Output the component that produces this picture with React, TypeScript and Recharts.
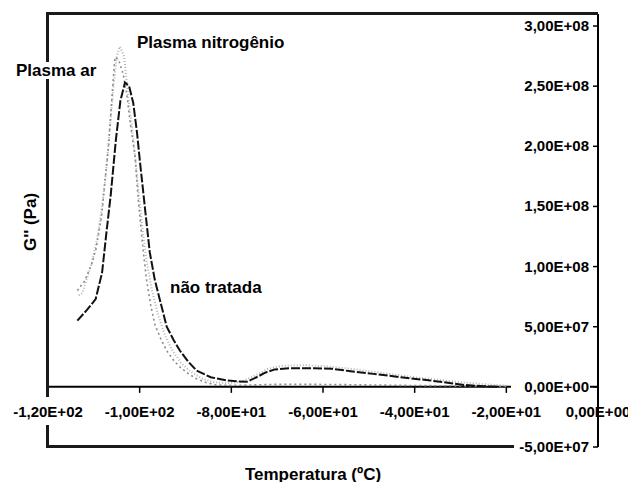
import { LineChart, Line, XAxis, YAxis, ReferenceLine } from 'recharts';

// temperature (ºC) and G'' (Pa) for each sample
const naoTratadaT = [-113.6, -111.5, -109.6, -108.2, -107.2, -106.3, -105.2, -104.2, -103.2, -102.3, -101.4, -100.6, -99.9, -98.8, -97.8, -96.7, -95.3, -94.1, -92.6, -91.2, -89.4, -87.6, -84.5, -81, -78.5, -76.6, -74.5, -72.5, -70.5, -67, -62, -58, -54, -49, -43, -36.6, -32, -29, -25, -22];
const naoTratadaG = [5.5e7, 6.4e7, 7.3e7, 9.5e7, 1.3e8, 1.6e8, 2.05e8, 2.38e8, 2.53e8, 2.5e8, 2.36e8, 2.12e8, 1.86e8, 1.47e8, 1.12e8, 8.9e7, 6.8e7, 5.0e7, 3.9e7, 3.0e7, 2.1e7, 1.36e7, 8e6, 5.3e6, 4.5e6, 4.2e6, 8e6, 1.2e7, 1.45e7, 1.55e7, 1.55e7, 1.5e7, 1.3e7, 1.08e7, 8e6, 5.3e6, 3e6, 1.5e6, 5e5, 0];

const plasmaArT = [-113.6, -112, -110.5, -109.5, -108.3, -107.6, -106.8, -106.1, -105.4, -104.6, -103.6, -102.7, -102.1, -101, -100.4, -99.9, -99.2, -98.5, -97.6, -96.7, -95.4, -94.1, -92.6, -91.2, -89.4, -87.6, -85.4, -83.2, -80, -76, -72, -66, -60, -54, -48, -42, -36, -30, -24, -20];
const plasmaArG = [8.0e7, 8.8e7, 1.02e8, 1.15e8, 1.42e8, 1.7e8, 2.0e8, 2.38e8, 2.74e8, 2.72e8, 2.6e8, 2.4e8, 2.2e8, 1.92e8, 1.6e8, 1.39e8, 1.12e8, 8.9e7, 6.8e7, 5.2e7, 4.0e7, 3.0e7, 2.2e7, 1.64e7, 1.1e7, 6.7e6, 3.5e6, 1.5e6, 1.2e6, 1.5e6, 2e6, 2.2e6, 2e6, 1.8e6, 1.5e6, 1.2e6, 1e6, 8e5, 5e5, 3e5];

const plasmaN2T = [-113.3, -112.5, -111.5, -110.3, -109.2, -108.2, -107.3, -106.5, -105.7, -105, -104.3, -103.4, -102.5, -101.5, -100.5, -99.5, -98.5, -97.3, -96, -94.5, -93, -91, -89, -86.5, -84, -81, -78, -75, -72, -69, -64, -59, -54, -49, -44, -39, -34, -29, -24, -20];
const plasmaN2G = [7.6e7, 7.8e7, 9.0e7, 1.05e8, 1.25e8, 1.5e8, 1.8e8, 2.15e8, 2.5e8, 2.75e8, 2.83e8, 2.75e8, 2.42e8, 2.1e8, 1.72e8, 1.35e8, 1.05e8, 8.0e7, 6.0e7, 4.3e7, 3.1e7, 2.0e7, 1.3e7, 7e6, 4e6, 3e6, 4e6, 9e6, 1.5e7, 1.75e7, 1.8e7, 1.7e7, 1.5e7, 1.25e7, 1e7, 7.5e6, 5.5e6, 3.5e6, 2e6, 1e6];

const xTicks = [-120, -100, -80, -60, -40, -20, 0];
const yTicks = [-5e7, 0, 5e7, 1e8, 1.5e8, 2e8, 2.5e8, 3e8];

const W = 628;
const H = 474;
const AXIS_H = 2;
const M = { top: 6, right: 38, bottom: 33, left: 40 };
const X_MIN = -120;
const X_MAX = 0;
const Y_MIN = -5e7;
const Y_MAX = 3.1e8;
const PLOT_W = W - M.left - M.right;
const PLOT_H = H - M.top - M.bottom - AXIS_H;
// distance from the bottom frame up to the G'' = 0 line
const ZERO_DROP = (PLOT_H * (0 - Y_MIN)) / (Y_MAX - Y_MIN);

const FONT = '"Liberation Sans", Arial, sans-serif';

const pts = (t: number[], g: number[]) => t.map((x, i) => ({ t: x, g: g[i] }));

// 3,00E+08 style
function sci(v: number) {
  const [m, e] = v.toExponential(2).split('e');
  const n = Number(e);
  return `${m.replace('.', ',')}E${n < 0 ? '-' : '+'}${String(Math.abs(n)).padStart(2, '0')}`;
}

function TempTick({ x, y, payload }: any) {
  const y0 = y - ZERO_DROP;
  return (
    <g>
      <line x1={x} x2={x} y1={y0} y2={y0 + 6} stroke="#000" strokeWidth={1.5} />
      <text x={x} y={y0 + 30} textAnchor="middle" fontFamily={FONT} fontSize={15} fontWeight={700} fill="#000">
        {sci(payload.value)}
      </text>
    </g>
  );
}

function GTick({ x, y, payload }: any) {
  return (
    <g>
      <rect x={x - 78} y={y - 9} width={79} height={18} fill="#fff" />
      <text x={x} y={y + 5} textAnchor="end" fontFamily={FONT} fontSize={15} fontWeight={700} fill="#000">
        {sci(payload.value)}
      </text>
    </g>
  );
}

const note: React.CSSProperties = {
  position: 'absolute',
  fontFamily: FONT,
  fontSize: 17,
  fontWeight: 700,
  lineHeight: 1,
  whiteSpace: 'nowrap',
  color: '#000',
  zIndex: 6,
};

const edge: React.CSSProperties = { position: 'absolute', background: '#1a1a1a', zIndex: 5 };

export default function App() {
  return (
    <div style={{ position: 'relative', width: W, height: H, background: '#fff' }}>
      <LineChart width={W} height={H} margin={M}>
        <ReferenceLine y={0} stroke="#000" strokeWidth={2} />
        <Line data={pts(plasmaN2T, plasmaN2G)} dataKey="g" type="linear" stroke="#b4b4b4" strokeWidth={2} strokeDasharray="1 2" dot={false} isAnimationActive={false} />
        <Line data={pts(plasmaArT, plasmaArG)} dataKey="g" type="linear" stroke="#8c8c8c" strokeWidth={1.6} strokeDasharray="2 3" dot={false} isAnimationActive={false} />
        <Line data={pts(naoTratadaT, naoTratadaG)} dataKey="g" type="linear" stroke="#111" strokeWidth={2} strokeDasharray="9 2" dot={false} isAnimationActive={false} />
        <XAxis
          type="number"
          dataKey="t"
          domain={[X_MIN, X_MAX]}
          ticks={xTicks}
          height={AXIS_H}
          tickSize={0}
          tickMargin={0}
          tickLine={false}
          axisLine={false}
          tick={<TempTick />}
          interval={0}
        />
        <YAxis
          orientation="right"
          mirror
          type="number"
          domain={[Y_MIN, Y_MAX]}
          ticks={yTicks}
          interval={0}
          tickSize={5}
          tickMargin={4}
          axisLine={{ stroke: '#000', strokeWidth: 2 }}
          tickLine={{ stroke: '#000', strokeWidth: 1.5 }}
          tick={<GTick />}
        />
      </LineChart>
      {/* plot frame: top edge, left edge (broken by the first x label), bottom edge up to the last y label */}
      <div style={{ ...edge, left: M.left - 2, top: M.top - 2, width: PLOT_W + 2, height: 3 }} />
      <div style={{ ...edge, left: M.left - 2, top: M.top - 2, width: 3, height: PLOT_H - ZERO_DROP + 12 }} />
      <div style={{ ...edge, left: M.left - 2, top: M.top + PLOT_H - 22, width: 3, height: 23 }} />
      <div style={{ ...edge, left: M.left - 2, top: M.top + PLOT_H - 2, width: PLOT_W - 82, height: 3 }} />
      <div style={{ ...note, left: 8, top: 54, background: '#fff' }}>Plasma ar</div>
      <div style={{ ...note, left: 129, top: 26 }}>Plasma nitrogênio</div>
      <div style={{ ...note, left: 162, top: 271 }}>não tratada</div>
      <div style={{ ...note, left: 22, top: 214, transform: 'translate(-50%, -50%) rotate(-90deg)' }}>G'' (Pa)</div>
      <div style={{ ...note, left: 305, top: 466, transform: 'translate(-50%, -50%)' }}>Temperatura (ºC)</div>
    </div>
  );
}
